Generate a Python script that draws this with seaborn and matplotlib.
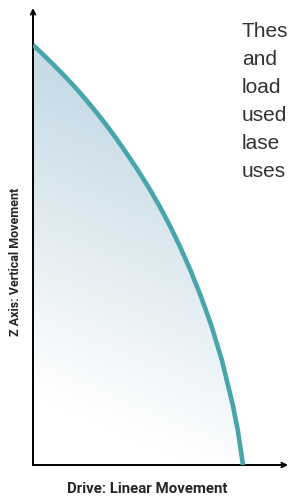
import numpy as np
import seaborn as sns
import matplotlib.pyplot as plt
from matplotlib.colors import LinearSegmentedColormap

# curve: drive position vs. vertical reach
drive = [0, 0.5, 1, 1.5, 2, 2.5, 3, 3.5, 4, 4.5, 5, 5.5, 6, 6.5,
         7, 7.5, 8, 8.5, 9, 9.5, 9.75, 10]
z_height = [10, 9.765, 9.52, 9.265, 8.995, 8.71, 8.41, 8.09, 7.75, 7.39,
            7.015, 6.615, 6.185, 5.715, 5.2, 4.635, 4.01, 3.31, 2.485,
            1.46, 0.835, 0]

x_label = "Drive: Linear Movement"
y_label = "Z Axis: Vertical Movement"
side_text = ["Thes", "and", "load", "used", "lase", "uses"]

W, H = 289, 497
sns.set_style("white")
plt.rcParams['font.family'] = ['Liberation Sans', 'DejaVu Sans']

fig = plt.figure(figsize=(W / 100, H / 100), dpi=100)
fig.patch.set_facecolor("white")

# axes origin at pixel (33, 465); 21 px per drive unit, 42 px per z unit
xmax = (288 - 33) / 21
ymax = (465 - 8) / 42
ax = fig.add_axes([33 / W, (H - 465) / H, 255 / W, 457 / H])
ax.set_xlim(0, xmax)
ax.set_ylim(0, ymax)
ax.axis("off")

# gradient fill under the curve
cmap = LinearSegmentedColormap.from_list("fade", ["#ffffff", "#c8dce6"])
gx, gy = np.meshgrid(np.linspace(0, 1, 200), np.linspace(0, 1, 200))
shade = np.clip(0.28 * gx + 1.3 * gy - 0.22, 0, 1)
im = ax.imshow(shade, origin="lower", extent=(0, 10, 0, 10), cmap=cmap,
               vmin=0, vmax=1, aspect="auto", interpolation="bilinear", zorder=1)
poly = ax.fill_between(drive, z_height, 0, color="none", lw=0)
im.set_clip_path(poly.get_paths()[0], transform=ax.transData)

# axes drawn as arrows
arrow = dict(arrowstyle="->", lw=1.4, color="black", mutation_scale=8,
             shrinkA=0, shrinkB=0)
ax.annotate("", xy=(xmax, 0), xytext=(0, 0), arrowprops=arrow,
            annotation_clip=False, zorder=3)
ax.annotate("", xy=(0, ymax), xytext=(0, 0), arrowprops=arrow,
            annotation_clip=False, zorder=3)

sns.lineplot(x=drive, y=z_height, sort=False, color="#47a5ab", lw=3.3,
             solid_joinstyle="round", solid_capstyle="butt", ax=ax, zorder=4)

label_font = ['Roboto', 'DejaVu Sans']
fig.text(147 / W, 1 - 489 / H, x_label, ha="center", va="center",
         fontsize=10.8, fontweight="bold", family=label_font)
fig.text(16 / W, 1 - 262 / H, y_label, ha="center", va="center", rotation=90,
         fontsize=9, fontweight="bold", family=label_font)

for i, word in enumerate(side_text):
    fig.text(242 / W, 1 - (37 + 28 * i) / H, word, ha="left", va="baseline",
             fontsize=15, color="#333333")

fig.savefig("out.png", dpi=100)
